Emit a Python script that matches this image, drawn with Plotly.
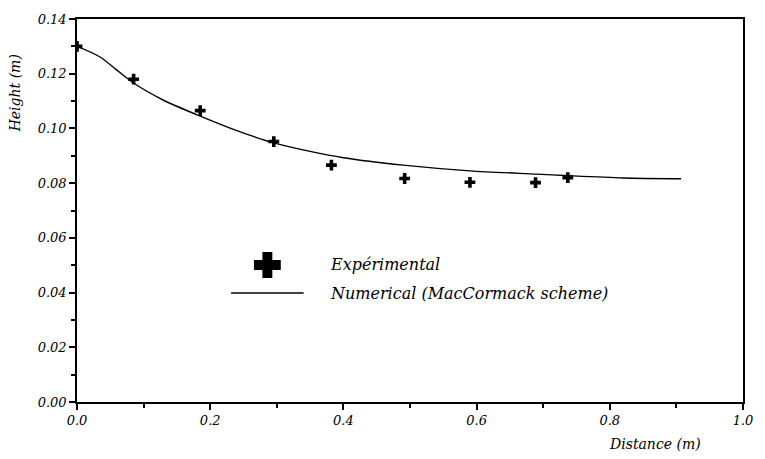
import plotly.graph_objects as go

# Experimental data
exp_x = [0.0, 0.085, 0.185, 0.2955, 0.382, 0.492, 0.590, 0.6885, 0.737]
exp_y = [0.130, 0.118, 0.1065, 0.0952, 0.0866, 0.0817, 0.0803, 0.0802, 0.0820]

# Numerical (MacCormack scheme)
num_x = [0.0, 0.034, 0.059, 0.085, 0.13, 0.185, 0.24, 0.2955, 0.35, 0.40,
         0.49, 0.59, 0.69, 0.74, 0.82, 0.907]
num_y = [0.130, 0.1262, 0.1215, 0.1166, 0.1103, 0.1045, 0.0992, 0.0947, 0.0916, 0.0893,
         0.0866, 0.0845, 0.0833, 0.0827, 0.0819, 0.0816]

y_ticks = [0.00, 0.02, 0.04, 0.06, 0.08, 0.10, 0.12, 0.14]
x_ticks = [0.0, 0.2, 0.4, 0.6, 0.8, 1.0]

legend_labels = ["Expérimental", "Numerical (MacCormack scheme)"]
x_title = "Distance (m)"
y_title = "Height (m)"

W, H = 765, 459
L, R, T, B = 77, 18, 19, 57
PW, PH = W - L - R, H - T - B

def px(x):
    return (x - L) / PW

def py(y):
    return (H - B - y) / PH

FONT = dict(family="DejaVu Serif", color="black", style="italic")

fig = go.Figure()
fig.add_trace(go.Scatter(x=num_x, y=num_y, mode="lines",
                         line=dict(color="black", width=1.4, shape="spline", smoothing=0.8),
                         showlegend=False))
fig.add_trace(go.Scatter(x=exp_x, y=exp_y, mode="markers",
                         marker=dict(symbol="cross", size=9, color="black",
                                     line=dict(width=0)), showlegend=False))

axis_common = dict(showgrid=False, zeroline=False, showline=True, linecolor="black",
                   linewidth=1.5, mirror=True, ticks="outside", tickcolor="black",
                   tickwidth=1.5, ticklen=6, tickfont=dict(size=13, **FONT))

fig.update_xaxes(range=[0, 1.0], tickvals=x_ticks, tickformat=".1f",
                 minor=dict(dtick=0.1, ticks="outside", ticklen=4, tickcolor="black", tickwidth=1.5),
                 **axis_common)
fig.update_yaxes(range=[0, 0.14], tickvals=y_ticks, tickformat=".2f",
                 minor=dict(dtick=0.01, ticks="outside", ticklen=4, tickcolor="black", tickwidth=1.5),
                 **axis_common)

annotations = [
    dict(text=x_title, x=px(658), y=py(444), xref="paper", yref="paper",
         showarrow=False, font=dict(size=14, **FONT), xanchor="center", yanchor="middle"),
    dict(text=y_title, x=px(15), y=py(93), xref="paper", yref="paper", textangle=-90,
         showarrow=False, font=dict(size=14, **FONT), xanchor="center", yanchor="middle"),
    dict(text=legend_labels[0], x=px(330), y=py(264), xref="paper", yref="paper",
         showarrow=False, font=dict(size=16, **FONT), xanchor="left", yanchor="middle"),
    dict(text=legend_labels[1], x=px(330), y=py(293), xref="paper", yref="paper",
         showarrow=False, font=dict(size=16, **FONT), xanchor="left", yanchor="middle"),
]

shapes = [
    dict(type="rect", xref="paper", yref="paper", x0=px(255), x1=px(282), y0=py(270), y1=py(260),
         fillcolor="black", line=dict(width=0)),
    dict(type="rect", xref="paper", yref="paper", x0=px(263.5), x1=px(273.5), y0=py(278), y1=py(252),
         fillcolor="black", line=dict(width=0)),
    dict(type="line", xref="paper", yref="paper", x0=px(232), x1=px(305), y0=py(293), y1=py(293),
         line=dict(color="black", width=1.5)),
]

fig.update_layout(width=W, height=H, margin=dict(l=L, r=R, t=T, b=B),
                  paper_bgcolor="white", plot_bgcolor="white",
                  annotations=annotations, shapes=shapes, showlegend=False)

fig.write_html("out.html")
